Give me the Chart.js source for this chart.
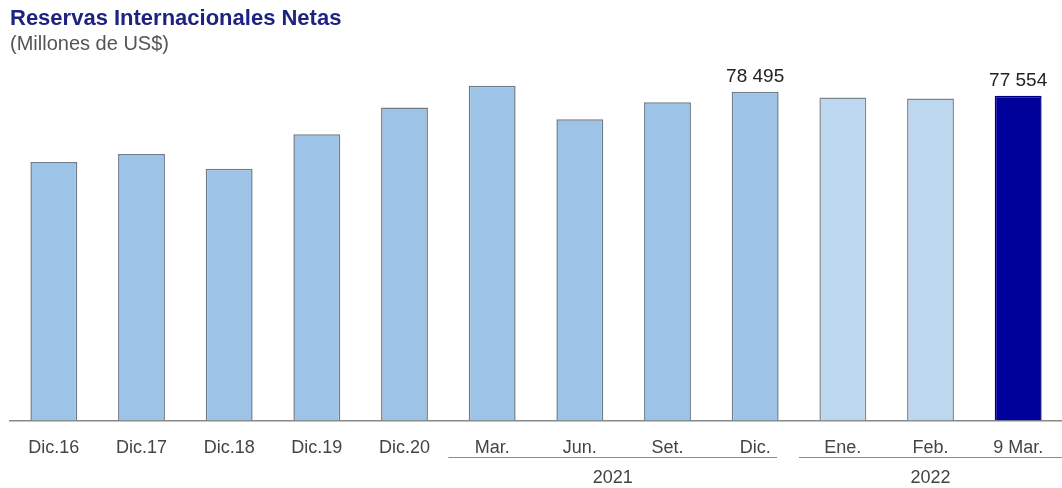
<!DOCTYPE html>
<html>
<head>
<meta charset="utf-8">
<script src="https://cdn.jsdelivr.net/npm/chart.js@4/dist/chart.umd.min.js"></script>
<style>
  html, body { margin: 0; padding: 0; background: #fff; overflow: hidden; }
  #wrap { width: 1062px; height: 488px; position: relative; }
</style>
</head>
<body>
<div id="wrap"><canvas id="myChart"></canvas></div>
<script>
var labels = ['Dic.16', 'Dic.17', 'Dic.18', 'Dic.19', 'Dic.20', 'Mar.', 'Jun.', 'Set.', 'Dic.', 'Ene.', 'Feb.', '9 Mar.'];
var values = [61686, 63621, 60121, 68316, 74707, 79900, 71900, 76000, 78495, 77100, 76900, 77554];
var shownValues = [8, 11]; // bars with a number on top
var years = ['2021', '2022'];
var yearFrom = [5, 9];
var yearTo = [8, 11];

var barColors = [];
var borderColors = [];
for (var i in values) {
    if (i == 11) {
        barColors.push('#00009a');
        borderColors.push('#000080');
    } else if (i >= 9) {
        barColors.push('#bdd7ee');
        borderColors.push('#7d8791');
    } else {
        barColors.push('#9dc3e6');
        borderColors.push('#6f7c88');
    }
}

function fmt(v) {
    return String(v).replace(/\B(?=(\d{3})+(?!\d))/g, ' ');
}

var valueLabels = {
    id: 'valueLabels',
    afterDatasetsDraw: function(chart) {
        var ctx = chart.ctx;
        var meta = chart.getDatasetMeta(0);
        ctx.save();
        ctx.font = '19px "Liberation Sans", Arial, sans-serif';
        ctx.fillStyle = '#222';
        ctx.textAlign = 'center';
        ctx.textBaseline = 'bottom';
        shownValues.forEach(function(idx) {
            var bar = meta.data[idx];
            ctx.fillText(fmt(values[idx]), bar.x, bar.y - 5);
        });
        ctx.restore();
    }
};

var yearGroups = {
    id: 'yearGroups',
    afterDraw: function(chart) {
        var ctx = chart.ctx;
        var x = chart.scales.x;
        var half = (x.getPixelForValue(1) - x.getPixelForValue(0)) / 2;
        ctx.save();
        ctx.font = '18px "Liberation Sans", Arial, sans-serif';
        ctx.fillStyle = '#444';
        ctx.textAlign = 'center';
        ctx.textBaseline = 'middle';
        for (var g = 0; g < years.length; g++) {
            var x0 = x.getPixelForValue(yearFrom[g]) - half;
            var x1 = x.getPixelForValue(yearTo[g]) + half * 0.5;
            if (g == years.length - 1) x1 = chart.chartArea.right;
            ctx.strokeStyle = '#6d8fbf';
            ctx.lineWidth = 1;
            ctx.beginPath();
            ctx.moveTo(x0, 457.5);
            ctx.lineTo(x1, 457.5);
            ctx.stroke();
            ctx.fillText(years[g], (x0 + x1) / 2, 478);
        }
        ctx.restore();
    }
};

var ctx = document.getElementById('myChart').getContext('2d');
var mychart = new Chart(ctx, {
    type: 'bar',
    data: {
        labels: labels,
        datasets: [{
            data: values,
            backgroundColor: barColors,
            borderColor: borderColors,
            borderWidth: 1.5,
            borderSkipped: 'bottom',
            categoryPercentage: 1,
            barPercentage: 0.535
        }]
    },
    options: {
        responsive: true,
        maintainAspectRatio: false,
        animation: false,
        layout: { padding: { left: 10, right: 0, top: 0, bottom: 20 } },
        plugins: {
            legend: { display: false },
            tooltip: { enabled: false },
            title: {
                display: true,
                text: 'Reservas Internacionales Netas',
                align: 'start',
                color: '#1f2380',
                font: { family: '"Liberation Sans", Arial, sans-serif', size: 22, weight: 'bold' },
                padding: { top: 6, bottom: 0 }
            },
            subtitle: {
                display: true,
                text: '(Millones de US$)',
                align: 'start',
                color: '#555',
                font: { family: '"Liberation Sans", Arial, sans-serif', size: 20 },
                padding: { top: 0, bottom: 6 }
            }
        },
        scales: {
            x: {
                grid: { display: false },
                border: { display: true, color: '#888', width: 1.5 },
                ticks: {
                    color: '#444',
                    padding: 9,
                    maxRotation: 0,
                    autoSkip: false,
                    font: { family: '"Liberation Sans", Arial, sans-serif', size: 18 }
                }
            },
            y: {
                display: false,
                min: 0,
                max: 85500
            }
        }
    },
    plugins: [valueLabels, yearGroups]
});
</script>
</body>
</html>
